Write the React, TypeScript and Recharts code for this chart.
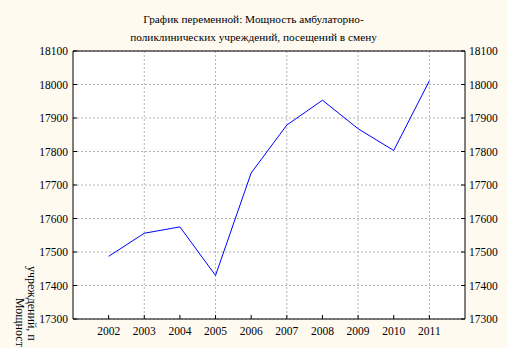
import React from 'react';
import { LineChart, Line, XAxis, YAxis, CartesianGrid, ReferenceLine } from 'recharts';

const years = [2002, 2003, 2004, 2005, 2006, 2007, 2008, 2009, 2010, 2011];
const capacity = [17487, 17556, 17575, 17430, 17736, 17879, 17953, 17868, 17803, 18011];
const yTicks = [17300, 17400, 17500, 17600, 17700, 17800, 17900, 18000, 18100];
const titleLines = [
  'График переменной: Мощность амбулаторно-',
  'поликлинических учреждений, посещений в смену',
];
const yLabelLines = ['учреждений, п', 'Мощност'];

const data = years.map((y, i) => ({ year: y, value: capacity[i] }));

const FONT = "Liberation Serif, Tinos, DejaVu Serif, serif";
const tickStyle = { fontFamily: FONT, fontSize: 11.5, fill: '#000' };

export default function App() {
  return (
    <div
      style={{
        position: 'fixed',
        left: 0,
        top: 0,
        width: 507,
        height: 348,
        overflow: 'hidden',
        background: '#FFFAF0',
        fontFamily: FONT,
      }}
    >
      <LineChart
        width={507}
        height={348}
        data={data}
        margin={{ top: 51, right: 0, bottom: 0, left: 0 }}
        style={{ fontFamily: FONT }}
      >
        <CartesianGrid
          yAxisId="left"
          fill="#ffffff"
          stroke="#b4b4b4"
          strokeDasharray="2 2"
          horizontalValues={yTicks}
          verticalValues={years}
        />
        <XAxis
          dataKey="year"
          type="number"
          domain={[2001, 2012]}
          ticks={years}
          height={29}
          tickSize={-4}
          tickMargin={12}
          axisLine={{ stroke: '#000', strokeWidth: 1 }}
          tickLine={{ stroke: '#000' }}
          tick={tickStyle}
          allowDecimals={false}
        />
        <YAxis
          yAxisId="left"
          domain={[17300, 18100]}
          ticks={yTicks}
          width={73}
          tickSize={-4}
          tickMargin={9}
          axisLine={{ stroke: '#000', strokeWidth: 1 }}
          tickLine={{ stroke: '#000' }}
          tick={tickStyle}
          allowDataOverflow
        />
        <YAxis
          yAxisId="right"
          orientation="right"
          domain={[17300, 18100]}
          ticks={yTicks}
          width={42}
          tickSize={-4}
          tickMargin={8}
          axisLine={{ stroke: '#000', strokeWidth: 1 }}
          tickLine={{ stroke: '#000' }}
          tick={tickStyle}
          allowDataOverflow
        />
        <ReferenceLine yAxisId="left" y={18100} stroke="#000" strokeWidth={1} ifOverflow="extendDomain" />
        <Line
          yAxisId="left"
          dataKey="value"
          stroke="#0000FF"
          strokeWidth={1}
          dot={false}
          isAnimationActive={false}
        />
        <Line
          yAxisId="right"
          dataKey="value"
          stroke="none"
          dot={false}
          legendType="none"
          isAnimationActive={false}
        />
      </LineChart>
      <div
        style={{
          position: 'absolute',
          left: 0,
          width: 507,
          top: 10,
          textAlign: 'center',
          fontSize: 11.3,
          lineHeight: '18px',
          color: '#000',
          whiteSpace: 'nowrap',
        }}
      >
        <div>{titleLines[0]}</div>
        <div>{titleLines[1]}</div>
      </div>
      <div
        style={{
          position: 'absolute',
          left: 39,
          top: 266,
          transformOrigin: 'left top',
          transform: 'rotate(90deg)',
          fontSize: 12,
          lineHeight: '14px',
          whiteSpace: 'nowrap',
          color: '#000',
        }}
      >
        {yLabelLines[0]}
      </div>
      <div
        style={{
          position: 'absolute',
          left: 27,
          top: 298,
          transformOrigin: 'left top',
          transform: 'rotate(90deg)',
          fontSize: 12,
          lineHeight: '14px',
          whiteSpace: 'nowrap',
          color: '#000',
        }}
      >
        {yLabelLines[1]}
      </div>
    </div>
  );
}
